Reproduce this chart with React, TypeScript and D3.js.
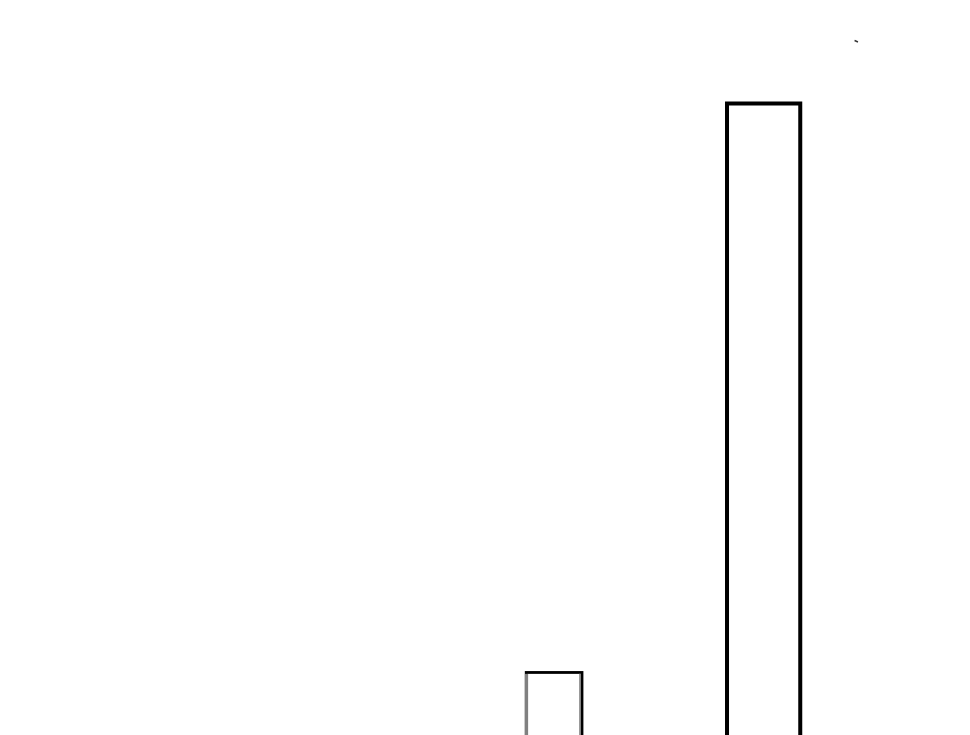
import { useEffect, useRef } from 'react';
import * as d3 from 'd3';

// bars: start and width along x (0-100), height (value)
const categories = ['A', 'B'];
const barStarts = [54.25, 74.95];
const barWidths = [5.75, 7.55];
const barValues = [2, 15];
const barEdges = ['#808080', '#000000'];

const WIDTH = 970;
const HEIGHT = 735;

export default function App() {
  const svgRef = useRef<SVGSVGElement>(null);

  useEffect(() => {
    if (!svgRef.current) return;
    const svg = d3.select(svgRef.current);
    svg.selectAll('*').remove();

    // baseline sits below the visible area, the bars run off the bottom
    const xScale = d3.scaleLinear().domain([0, 100]).range([0, WIDTH]);
    const yScale = d3.scaleLinear().domain([0, 15]).range([760, 103.5]);

    const data = categories.map((c, i) => ({
      label: c,
      start: barStarts[i],
      width: barWidths[i],
      value: barValues[i],
      edge: barEdges[i],
    }));

    const g = svg.append('g');

    g.selectAll('rect.bar')
      .data(data)
      .join('rect')
      .attr('class', 'bar')
      .attr('x', (d) => xScale(d.start))
      .attr('width', (d) => xScale(d.start + d.width) - xScale(d.start))
      .attr('y', (d) => yScale(d.value))
      .attr('height', (d) => yScale(0) - yScale(d.value))
      .attr('fill', '#fff')
      .attr('stroke', '#000')
      .attr('stroke-width', (d, i) => (i === 0 ? 2.8 : 4));

    // grey side edges on the short bar
    const grey = data.filter((d) => d.edge !== '#000000');
    g.selectAll('line.edge-left')
      .data(grey)
      .join('line')
      .attr('class', 'edge-left')
      .attr('x1', (d) => xScale(d.start) + 0.3)
      .attr('x2', (d) => xScale(d.start) + 0.3)
      .attr('y1', (d) => yScale(d.value) + 1.4)
      .attr('y2', yScale(0))
      .attr('stroke', (d) => d.edge)
      .attr('stroke-width', 3.2);
    g.selectAll('line.edge-right')
      .data(grey)
      .join('line')
      .attr('class', 'edge-right')
      .attr('x1', (d) => xScale(d.start + d.width) - 2)
      .attr('x2', (d) => xScale(d.start + d.width) - 2)
      .attr('y1', (d) => yScale(d.value) + 1.4)
      .attr('y2', yScale(0))
      .attr('stroke', (d) => d.edge)
      .attr('stroke-width', 1.6);

    // small stray mark at the top right
    g.append('line')
      .attr('x1', xScale(88.1))
      .attr('x2', xScale(88.45))
      .attr('y1', 40.5)
      .attr('y2', 42)
      .attr('stroke', '#333')
      .attr('stroke-width', 1.4);
  }, []);

  return (
    <svg
      ref={svgRef}
      width={WIDTH}
      height={HEIGHT}
      style={{ position: 'absolute', left: 0, top: 0, background: '#fff' }}
    />
  );
}
